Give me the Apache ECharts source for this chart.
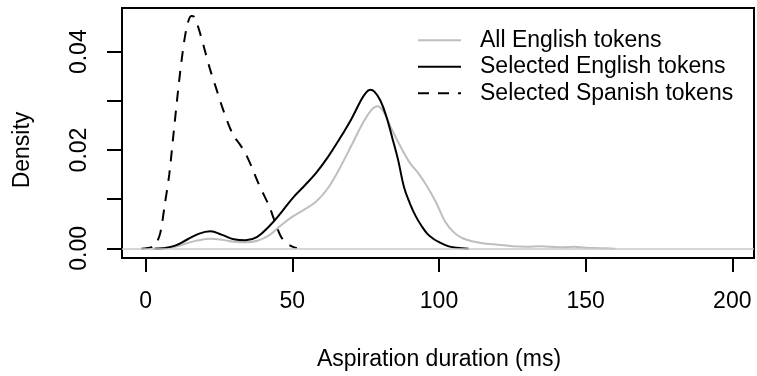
<!DOCTYPE html>
<html>
<head>
<meta charset="utf-8">
<script src="https://cdn.jsdelivr.net/npm/echarts@6/dist/echarts.min.js"></script>
<style>
  html, body { margin: 0; padding: 0; background: #fff; }
  #chart { width: 757px; height: 376px; }
</style>
</head>
<body>
<div id="chart"></div>
<script>
// density estimates (x = ms, y = density)
var allEngX = [2, 6, 10, 14, 18, 22, 26, 30, 34, 38, 42, 46, 50, 54, 58, 62, 66, 70, 74, 77, 79, 81, 84, 87, 90, 93, 96, 99, 102, 105, 108, 112, 116, 120, 125, 130, 134, 138, 142, 146, 150, 155, 160];
var allEngY = [0, 0.0001, 0.0004, 0.0011, 0.0017, 0.0020, 0.0018, 0.0014, 0.0013, 0.0016, 0.0027, 0.0047, 0.0065, 0.0079, 0.0095, 0.0122, 0.0162, 0.0208, 0.0255, 0.0282, 0.0289, 0.0278, 0.0240, 0.0205, 0.0174, 0.0152, 0.0125, 0.0093, 0.0055, 0.0033, 0.0021, 0.0014, 0.0010, 0.0008, 0.0005, 0.0004, 0.0005, 0.0004, 0.0003, 0.0004, 0.0002, 0.0001, 0];

var selEngX = [3, 6, 10, 14, 18, 22, 26, 30, 34, 38, 42, 46, 50, 54, 58, 62, 66, 70, 73, 75, 76.5, 78, 80, 82, 84, 86, 88, 90, 92, 94, 96, 98, 100, 103, 106, 110];
var selEngY = [0, 0.0001, 0.0006, 0.0018, 0.0030, 0.0035, 0.0028, 0.0019, 0.0017, 0.0024, 0.0045, 0.0072, 0.0102, 0.0127, 0.0153, 0.0185, 0.0222, 0.0262, 0.0297, 0.0316, 0.0322, 0.0318, 0.0300, 0.0268, 0.0225, 0.0180, 0.0125, 0.0092, 0.0066, 0.0046, 0.0030, 0.0020, 0.0013, 0.0005, 0.0002, 0];

var spanX = [-1.5, 2, 3.5, 5, 6.5, 8, 9.5, 11, 12.5, 14, 15.5, 16.5, 18, 20, 22, 24, 26, 28, 30, 32, 34, 36, 38, 40, 42, 44, 46, 48, 50, 51.5];
var spanY = [0, 0.0003, 0.001, 0.0033, 0.009, 0.015, 0.0235, 0.032, 0.0395, 0.045, 0.0472, 0.0470, 0.0447, 0.0405, 0.0362, 0.0325, 0.0288, 0.0255, 0.0228, 0.0212, 0.0193, 0.0167, 0.0138, 0.0112, 0.0087, 0.0055, 0.0025, 0.0011, 0.0004, 0.0001];

var xTicks = [0, 50, 100, 150, 200];
var yLabelled = [0, 0.02, 0.04];

var names = ['All English tokens', 'Selected English tokens', 'Selected Spanish tokens'];

function pairs(xs, ys) {
    return xs.map(function (x, i) { return [x, ys[i]]; });
}

var FONT = 'Liberation Sans, Arial, sans-serif';
var chart = echarts.init(document.getElementById('chart'));

var option = {
    animation: false,
    backgroundColor: '#fff',
    textStyle: { fontFamily: FONT },
    grid: [
        // plot box
        { left: 122, right: 3, top: 8, bottom: 118, show: true, borderColor: '#000', borderWidth: 2, backgroundColor: 'transparent' },
        // R style axes, spanning only the tick range
        { left: 145.7, right: 24.7, top: 51.7, bottom: 127.7 }
    ],
    xAxis: [
        { gridIndex: 0, type: 'value', min: -8.1, max: 207.3, show: false },
        {
            gridIndex: 1, type: 'value', min: xTicks[0], max: xTicks[xTicks.length - 1], interval: 50,
            position: 'bottom', offset: 9.7,
            name: 'Aspiration duration (ms)', nameLocation: 'middle', nameGap: 90,
            nameTextStyle: { fontSize: 23, color: '#000', fontFamily: FONT },
            axisLine: { onZero: false, lineStyle: { color: '#000', width: 2 } },
            axisTick: { length: 14, lineStyle: { color: '#000', width: 2 } },
            axisLabel: { fontSize: 23, color: '#000', margin: 32, fontFamily: FONT },
            splitLine: { show: false }
        }
    ],
    yAxis: [
        { gridIndex: 0, type: 'value', min: -0.0019, max: 0.0488, show: false },
        {
            gridIndex: 1, type: 'value', min: 0, max: 0.04, interval: 0.01,
            position: 'left', offset: 23.7,
            name: 'Density', nameLocation: 'middle', nameGap: 88,
            nameTextStyle: { fontSize: 23, color: '#000', fontFamily: FONT },
            axisLine: { onZero: false, lineStyle: { color: '#000', width: 2 } },
            axisTick: { length: 15, lineStyle: { color: '#000', width: 2 } },
            axisLabel: {
                fontSize: 23, color: '#000', rotate: 90, margin: 31, fontFamily: FONT,
                formatter: function (v) {
                    for (var i = 0; i < yLabelled.length; i++) {
                        if (Math.abs(v - yLabelled[i]) < 1e-9) return v.toFixed(2);
                    }
                    return '';
                }
            },
            splitLine: { show: false }
        }
    ],
    legend: {
        orient: 'vertical',
        left: 417,
        top: 27,
        padding: 0,
        itemWidth: 43,
        itemHeight: 14,
        itemGap: 0,
        selectedMode: false,
        data: names,
        itemStyle: { opacity: 0 },
        textStyle: { fontSize: 23, color: '#000', lineHeight: 26.5, padding: [0, 0, 0, 14], fontFamily: FONT }
    },
    series: [
        {
            name: names[0], type: 'line', xAxisIndex: 0, yAxisIndex: 0,
            data: pairs(allEngX, allEngY), symbol: 'none', smooth: 0.4,
            lineStyle: { color: '#bebebe', width: 2 },
            itemStyle: { color: '#bebebe' },
            markLine: {
                silent: true, symbol: 'none', label: { show: false },
                lineStyle: { color: '#c8c8c8', width: 1.5, type: 'solid' },
                data: [{ yAxis: 0 }]
            },
            z: 2
        },
        {
            name: names[1], type: 'line', xAxisIndex: 0, yAxisIndex: 0,
            data: pairs(selEngX, selEngY), symbol: 'none', smooth: 0.4,
            lineStyle: { color: '#000', width: 2 },
            itemStyle: { color: '#000' },
            z: 3
        },
        {
            name: names[2], type: 'line', xAxisIndex: 0, yAxisIndex: 0,
            data: pairs(spanX, spanY), symbol: 'none', smooth: 0.3,
            lineStyle: { color: '#000', width: 2, type: [11, 9] },
            itemStyle: { color: '#000' },
            z: 4
        }
    ]
};

chart.setOption(option);
</script>
</body>
</html>
